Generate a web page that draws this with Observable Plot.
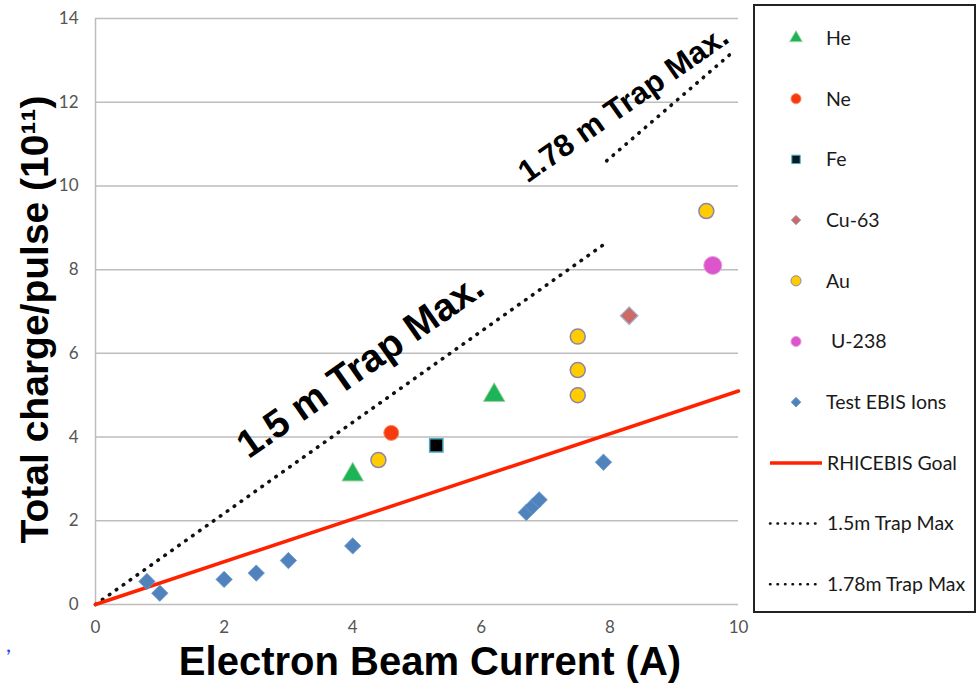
<!DOCTYPE html>
<html><head><meta charset="utf-8">
<script src="https://cdn.jsdelivr.net/npm/d3@7"></script>
<script src="https://cdn.jsdelivr.net/npm/@observablehq/plot@0.6"></script>
<style>
body{margin:0;background:#fff;}
#chart{position:relative;width:979px;height:691px;}
</style>
</head><body><div id="chart"></div>
<script>
// ---- data ----
const heX = [4.0, 6.2], heY = [3.1, 5.0];
const neX = [4.6], neY = [4.1];
const feX = [5.3], feY = [3.8];
const cuX = [8.3], cuY = [6.9];
const auX = [4.4, 7.5, 7.5, 7.5, 9.5], auY = [3.45, 6.4, 5.6, 5.0, 9.4];
const uX = [9.6], uY = [8.1];
const ebisX = [0.8, 1.0, 2.0, 2.5, 3.0, 4.0, 6.7, 6.8, 6.9, 7.9];
const ebisY = [0.55, 0.27, 0.6, 0.75, 1.05, 1.4, 2.2, 2.35, 2.5, 3.4];
const goalX = [0, 10], goalY = [0, 5.1];
const trap15X = [0, 7.95], trap15Y = [0, 8.65];
const trap178X = [7.95, 9.95], trap178Y = [10.6, 13.25];
const xTicks = [0, 2, 4, 6, 8, 10];
const yTicks = [0, 2, 4, 6, 8, 10, 12, 14];
const legendLabels = ["He", "Ne", "Fe", "Cu-63", "Au", " U-238", "Test EBIS Ions", "RHICEBIS Goal", "1.5m Trap Max", "1.78m Trap Max"];
const annotations = [
  {x: 4.12, y: 5.7, text: "1.5 m Trap Max.", size: 39},
  {x: 8.21, y: 11.95, text: "1.78 m Trap Max.", size: 31}
];
const xTitle = "Electron Beam Current (A)";
const yTitle = "Total charge/pulse (10¹¹)";

const pts = (xs, ys) => xs.map((x, i) => ({x, y: ys[i]}));
const dotted = {stroke: "#111", strokeWidth: 3.6, strokeDasharray: "0.5,8", strokeLinecap: "round"};
const bold = "Liberation Sans, Arial, sans-serif";

const plot = Plot.plot({
  width: 979, height: 691,
  marginLeft: 95, marginRight: 241, marginTop: 18, marginBottom: 87,
  style: {fontFamily: "Lato, sans-serif", background: "#fff"},
  x: {domain: [0, 10]},
  y: {domain: [0, 14]},
  marks: [
    Plot.gridY(yTicks, {stroke: "#bdbdbd", strokeOpacity: 1, strokeWidth: 1.5}),
    Plot.ruleX([0], {stroke: "#bdbdbd", strokeWidth: 1.5}),
    Plot.axisY(yTicks, {tickSize: 0, tickPadding: 17, fontSize: 17, fill: "#555", label: null}),
    Plot.axisX(xTicks, {tickSize: 0, tickPadding: 16, fontSize: 17, fill: "#555", label: null}),
    Plot.line(pts(trap15X, trap15Y), {x: "x", y: "y", ...dotted}),
    Plot.line(pts(trap178X, trap178Y), {x: "x", y: "y", ...dotted}),
    Plot.line(pts(goalX, goalY), {x: "x", y: "y", stroke: "#ff2200", strokeWidth: 3.5}),
    Plot.dot(pts(ebisX, ebisY), {x: "x", y: "y", symbol: "diamond2", r: 7.4, fill: "#5083bb", stroke: "#6d9bd0", strokeWidth: 0.8}),
    Plot.dot(pts(heX, heY), {x: "x", y: "y", symbol: "triangle", r: 8, fill: "#1db358", stroke: "#9fd39f", strokeWidth: 1}),
    Plot.dot(pts(neX, neY), {x: "x", y: "y", symbol: "circle", r: 7.5, fill: "#f73a10", stroke: "#f79060", strokeWidth: 1}),
    Plot.dot(pts(feX, feY), {x: "x", y: "y", symbol: "square", r: 7.5, fill: "#000", stroke: "#4ba9c4", strokeWidth: 1.5}),
    Plot.dot(pts(cuX, cuY), {x: "x", y: "y", symbol: "diamond2", r: 8, fill: "#cb6a66", stroke: "#a9b6d6", strokeWidth: 1.2}),
    Plot.dot(pts(auX, auY), {x: "x", y: "y", symbol: "circle", r: 7.5, fill: "#ffcc00", stroke: "#8f84a8", strokeWidth: 1.5}),
    Plot.dot(pts(uX, uY), {x: "x", y: "y", symbol: "circle", r: 9, fill: "#dd55cc", stroke: "#e7a0d8", strokeWidth: 1}),
    Plot.text(annotations, {x: "x", y: "y", text: "text", rotate: -35, fontSize: d => d.size, fontWeight: "bold", fontFamily: bold, fill: "#000"}),
    Plot.text([xTitle], {frameAnchor: "bottom", dx: 13, dy: 70, fontSize: 40, fontWeight: "bold", fontFamily: bold, fill: "#000"}),
    Plot.text([yTitle], {frameAnchor: "left", dx: -60, dy: 8, rotate: -90, textAnchor: "middle", fontSize: 39, fontWeight: "bold", fontFamily: bold, fill: "#000"})
  ]
});
document.getElementById("chart").appendChild(plot);

// ---- legend (drawn in the right margin) ----
const svg = d3.select(plot);
const lg = svg.append("g").attr("font-family", "Lato, sans-serif").attr("font-size", 19.5).attr("fill", "#1a1a1a").attr("text-anchor", "start");
lg.append("rect").attr("x", 754).attr("y", 5).attr("width", 221).attr("height", 607)
  .attr("fill", "none").attr("stroke", "#222").attr("stroke-width", 2);
const rowY = i => 38 + i * 60.7;
const legendSymbols = [
  {sym: d3.symbolTriangle, size: 70, fill: "#1db358", stroke: "#9fd39f"},
  {sym: d3.symbolCircle, size: 80, fill: "#f73a10", stroke: "#f79060"},
  {sym: d3.symbolSquare, size: 70, fill: "#0a1a22", stroke: "#4ba9c4"},
  {sym: d3.symbolDiamond2, size: 60, fill: "#cb6a66", stroke: "#a9b6d6"},
  {sym: d3.symbolCircle, size: 80, fill: "#ffcc00", stroke: "#8f84a8"},
  {sym: d3.symbolCircle, size: 80, fill: "#dd55cc", stroke: "#e7a0d8"},
  {sym: d3.symbolDiamond2, size: 60, fill: "#5083bb", stroke: "#6d9bd0"}
];
legendLabels.forEach((lab, i) => {
  const y = rowY(i);
  if (i < 7) {
    const s = legendSymbols[i];
    lg.append("path").attr("d", d3.symbol(s.sym, s.size)()).attr("transform", `translate(796,${y})`)
      .attr("fill", s.fill).attr("stroke", s.stroke).attr("stroke-width", 1);
    lg.append("text").attr("x", 826).attr("y", y).attr("dy", "0.35em").attr("xml:space", "preserve").style("white-space", "pre").text(lab);
  } else {
    const line = lg.append("line").attr("x1", 770).attr("x2", 822).attr("y1", y).attr("y2", y);
    if (i === 7) line.attr("stroke", "#ff2200").attr("stroke-width", 3.5);
    else line.attr("stroke", "#111").attr("stroke-width", 2.5).attr("stroke-dasharray", "0.5,7").attr("stroke-linecap", "round");
    lg.append("text").attr("x", 827).attr("y", y).attr("dy", "0.35em").text(lab);
  }
});
svg.append("text").attr("x", 6).attr("y", 652).attr("font-size", 22).attr("fill", "#2244ee").attr("font-family", "Lato, sans-serif").attr("text-anchor", "start").text(",");
</script>
</body></html>
